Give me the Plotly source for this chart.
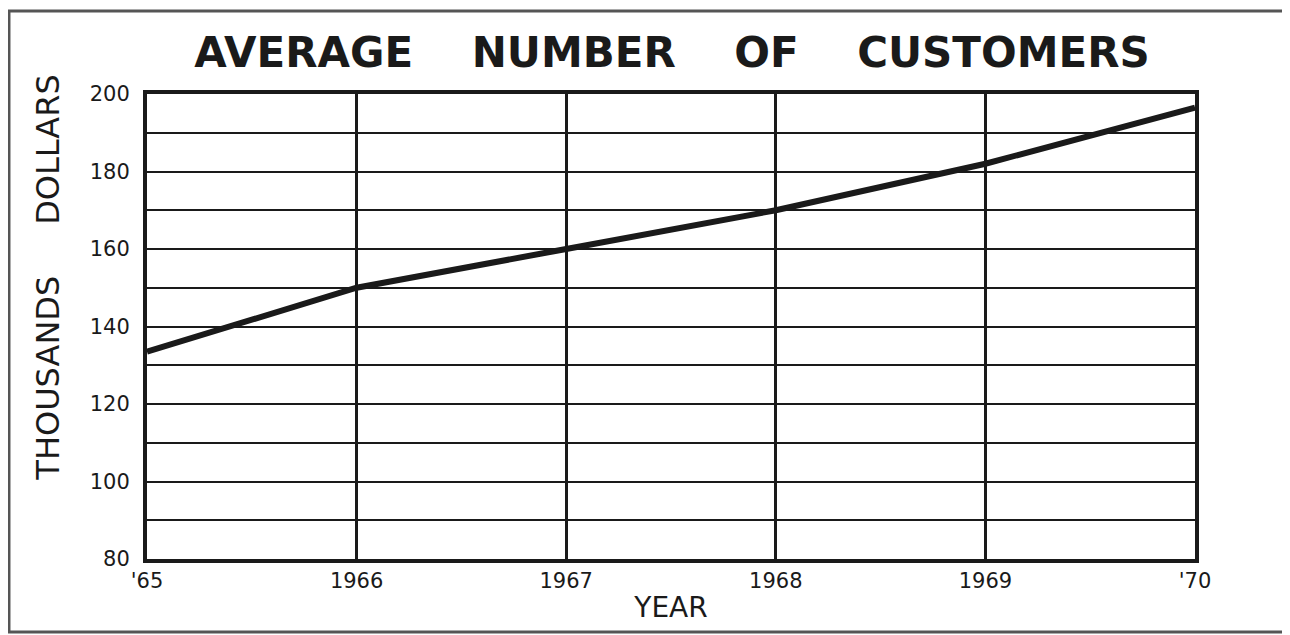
import plotly.graph_objects as go

years = [1965, 1966, 1967, 1968, 1969, 1970]
values = [133.5, 150, 160, 170, 182, 196.5]
x_tick_labels = ["'65", "1966", "1967", "1968", "1969", "'70"]
y_tick_vals = [80, 100, 120, 140, 160, 180, 200]
y_tick_labels = ["80", "100", "120", "140", "160", "180", "200"]

INK = "#1a1a1a"
NB = "\u00a0"

fig = go.Figure()
fig.add_trace(go.Scatter(
    x=years, y=values, mode="lines",
    line=dict(color=INK, width=6),
    hoverinfo="skip", showlegend=False,
))

fig.update_layout(
    width=1282, height=627,
    paper_bgcolor="white", plot_bgcolor="white",
    margin=dict(l=139, r=95, t=86, b=76),
    font=dict(family="DejaVu Sans", color=INK),
    title=dict(
        text=("AVERAGE" + NB * 4 + "NUMBER" + NB * 4 + "OF" + NB * 4 + "CUSTOMERS"),
        x=0.518, xanchor="center", y=0.93, yanchor="middle",
        font=dict(family="DejaVu Sans", size=42, color=INK, weight="bold"),
    ),
    xaxis=dict(
        range=[1965, 1970],
        tickvals=years, ticktext=x_tick_labels,
        showgrid=True, gridcolor=INK, gridwidth=3,
        zeroline=False,
        showline=True, linecolor=INK, linewidth=4, mirror=True,
        ticks="", ticklabelstandoff=0,
        tickfont=dict(size=21, color=INK),
        title=dict(text="YEAR", font=dict(size=28, color=INK), standoff=6),
        fixedrange=True,
    ),
    yaxis=dict(
        range=[80, 200],
        tickvals=y_tick_vals, ticktext=y_tick_labels,
        showgrid=True, gridcolor=INK, gridwidth=2,
        minor=dict(dtick=10, tick0=80, showgrid=True, gridcolor=INK, gridwidth=2),
        zeroline=False,
        showline=True, linecolor=INK, linewidth=4, mirror=True,
        ticks="", ticklabelstandoff=9,
        tickfont=dict(size=21, color=INK),
        fixedrange=True,
    ),
    annotations=[dict(
        text="THOUSANDS" + NB * 5 + "DOLLARS",
        textangle=-90,
        xref="paper", yref="paper",
        x=-0.0945, y=0.605, xanchor="center", yanchor="middle",
        showarrow=False,
        font=dict(size=32, color=INK),
    )],
    shapes=[dict(
        type="rect", xref="paper", yref="paper",
        x0=-0.1317, x1=1.0868, y0=-0.157, y1=1.1785,
        line=dict(color="#555555", width=3),
        layer="below",
    )],
)

fig.write_html("out.html")
